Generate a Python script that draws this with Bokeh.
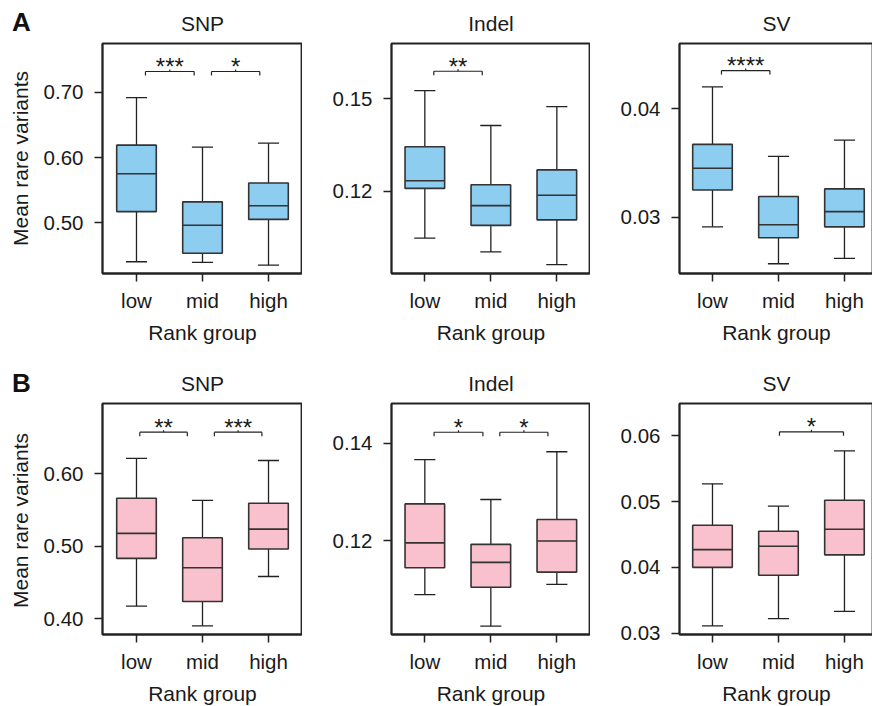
import numpy as np
from bokeh.plotting import figure
from bokeh.layouts import column, row
from bokeh.models import FixedTicker, NumeralTickFormatter, Range1d
from bokeh.core.properties import value
from bokeh.embed import file_html
from bokeh.resources import INLINE

# ---------------- data ----------------
GROUPS = ["low", "mid", "high"]
PANEL_TITLES = ["SNP", "Indel", "SV"]
ROW_LETTERS = ["A", "B"]
X_LABEL = "Rank group"
Y_LABEL = "Mean rare variants"

# Row A (blue)
A_SNP_LO = [0.440, 0.439, 0.435]
A_SNP_Q1 = [0.517, 0.453, 0.505]
A_SNP_MED = [0.575, 0.496, 0.526]
A_SNP_Q3 = [0.619, 0.532, 0.561]
A_SNP_HI = [0.692, 0.616, 0.622]
A_SNP_TICKS = [0.50, 0.60, 0.70]
A_SNP_SIG = [("low", "mid", "***", 0.732), ("mid", "high", "*", 0.732)]

A_INDEL_LO = [0.1049, 0.1004, 0.0963]
A_INDEL_Q1 = [0.1210, 0.1090, 0.1108]
A_INDEL_MED = [0.1235, 0.1154, 0.1188]
A_INDEL_Q3 = [0.1345, 0.1222, 0.1270]
A_INDEL_HI = [0.1527, 0.1414, 0.1475]
A_INDEL_TICKS = [0.12, 0.15]
A_INDEL_SIG = [("low", "mid", "**", 0.159)]

A_SV_LO = [0.0291, 0.0257, 0.0262]
A_SV_Q1 = [0.0325, 0.0281, 0.0291]
A_SV_MED = [0.0345, 0.0293, 0.0305]
A_SV_Q3 = [0.0367, 0.0319, 0.0326]
A_SV_HI = [0.0420, 0.0356, 0.0371]
A_SV_TICKS = [0.03, 0.04]
A_SV_SIG = [("low", "mid", "****", 0.0435)]

# Row B (pink)
B_SNP_LO = [0.417, 0.390, 0.458]
B_SNP_Q1 = [0.483, 0.4235, 0.496]
B_SNP_MED = [0.5175, 0.470, 0.5234]
B_SNP_Q3 = [0.566, 0.5115, 0.559]
B_SNP_HI = [0.621, 0.563, 0.618]
B_SNP_TICKS = [0.40, 0.50, 0.60]
B_SNP_SIG = [("low", "mid", "**", 0.657), ("mid", "high", "***", 0.657)]

B_INDEL_LO = [0.1090, 0.1025, 0.1111]
B_INDEL_Q1 = [0.1145, 0.1105, 0.1136]
B_INDEL_MED = [0.1196, 0.1156, 0.1200]
B_INDEL_Q3 = [0.1276, 0.1193, 0.1244]
B_INDEL_HI = [0.1367, 0.1285, 0.1383]
B_INDEL_TICKS = [0.12, 0.14]
B_INDEL_SIG = [("low", "mid", "*", 0.1423), ("mid", "high", "*", 0.1423)]

B_SV_LO = [0.0311, 0.0322, 0.0333]
B_SV_Q1 = [0.0400, 0.0388, 0.0419]
B_SV_MED = [0.0427, 0.0432, 0.0458]
B_SV_Q3 = [0.0464, 0.0455, 0.0502]
B_SV_HI = [0.0527, 0.0493, 0.0577]
B_SV_TICKS = [0.03, 0.04, 0.05, 0.06]
B_SV_SIG = [("mid", "high", "*", 0.0606)]

# ---------------- layout / style ----------------
FONT = "Liberation Sans"
TEXT_COLOR = "#1a1a1a"
LINE_COLOR = "#222222"
ROW_COLORS = ["#8DCDF0", "#F8C1CD"]
FS = "21px"
TICK_FS = "20.5px"

TOTAL_H = 706
SIDE_W = 40                      # strip holding row letters and y-axis titles
COL_BORDER_LEFT = [61, 89, 89]
COL_FRAME_W = [200, 199, 194]
COL_X_RANGE = [(-0.515, 2.515), (-0.505, 2.51), (-0.5, 2.44)]
ROW_BORDER_TOP = [43, 48]
ROW_FRAME_H = [230, 231]
ROW_BORDER_BOTTOM = [82, 72]
Y_RANGES = [
    [(0.422, 0.775), (0.0934, 0.168), (0.0248, 0.046)],
    [(0.378, 0.6966), (0.1008, 0.1482), (0.0298, 0.0649)],
]
# bracket x-spans (in category units), one per significance bracket
BRACKET_SPANS = [
    [[(0.136, 0.874), (1.136, 1.868)], [(0.136, 0.87)], [(0.136, 0.87)]],
    [[(0.05, 0.77), (1.18, 1.90)], [(0.14, 0.88), (1.136, 1.865)], [(1.015, 1.985)]],
]
# side strip positions in page pixels (x, y from top)
LETTER_POS = [(11.5, 21.5), (11.5, 382.5)]
YLABEL_POS = [(20, 158), (20, 520)]
BOX_W = 0.6
CAP_W = 0.32

PANELS = [
    [(A_SNP_LO, A_SNP_Q1, A_SNP_MED, A_SNP_Q3, A_SNP_HI, A_SNP_TICKS, A_SNP_SIG),
     (A_INDEL_LO, A_INDEL_Q1, A_INDEL_MED, A_INDEL_Q3, A_INDEL_HI, A_INDEL_TICKS, A_INDEL_SIG),
     (A_SV_LO, A_SV_Q1, A_SV_MED, A_SV_Q3, A_SV_HI, A_SV_TICKS, A_SV_SIG)],
    [(B_SNP_LO, B_SNP_Q1, B_SNP_MED, B_SNP_Q3, B_SNP_HI, B_SNP_TICKS, B_SNP_SIG),
     (B_INDEL_LO, B_INDEL_Q1, B_INDEL_MED, B_INDEL_Q3, B_INDEL_HI, B_INDEL_TICKS, B_INDEL_SIG),
     (B_SV_LO, B_SV_Q1, B_SV_MED, B_SV_Q3, B_SV_HI, B_SV_TICKS, B_SV_SIG)],
]


def make_panel(r, c):
    lo, q1, med, q3, hi, ticks, sigs = PANELS[r][c]
    y0, y1 = Y_RANGES[r][c]
    fh = ROW_FRAME_H[r]
    p = figure(
        frame_width=COL_FRAME_W[c], frame_height=fh,
        min_border_left=COL_BORDER_LEFT[c], min_border_right=0,
        min_border_top=ROW_BORDER_TOP[r], min_border_bottom=ROW_BORDER_BOTTOM[r],
        x_range=Range1d(*COL_X_RANGE[c]), y_range=Range1d(y0, y1),
        output_backend="svg", toolbar_location=None, title=PANEL_TITLES[c],
    )
    p.title.align = "center"
    p.title.text_font = FONT
    p.title.text_font_size = FS
    p.title.text_font_style = "normal"
    p.title.text_color = TEXT_COLOR
    p.title.standoff = 17
    p.grid.visible = False
    p.outline_line_color = LINE_COLOR
    p.outline_line_width = 1.8
    p.outline_line_alpha = 1.0
    p.background_fill_color = "white"
    p.border_fill_color = "white"

    for ax in (p.xaxis[0], p.yaxis[0]):
        ax.axis_line_color = LINE_COLOR
        ax.axis_line_width = 1.8
        ax.major_tick_line_color = LINE_COLOR
        ax.major_tick_line_width = 1.5
        ax.major_tick_out = 8
        ax.major_tick_in = 0
        ax.minor_tick_line_color = None
        ax.major_label_text_font = FONT
        ax.major_label_text_font_size = TICK_FS
        ax.major_label_text_color = TEXT_COLOR
        ax.axis_label_text_font = FONT
        ax.axis_label_text_font_size = FS
        ax.axis_label_text_font_style = "normal"
        ax.axis_label_text_color = TEXT_COLOR

    p.xaxis.ticker = FixedTicker(ticks=list(range(len(GROUPS))))
    p.xaxis.major_label_overrides = {i: g for i, g in enumerate(GROUPS)}
    p.xaxis.axis_label = X_LABEL
    p.xaxis.major_label_standoff = 7
    p.xaxis.axis_label_standoff = 6

    p.yaxis.ticker = FixedTicker(ticks=ticks)
    p.yaxis.formatter = NumeralTickFormatter(format="0.00")
    p.yaxis.major_label_standoff = 11

    x = np.arange(len(GROUPS), dtype=float)
    lo, q1, med, q3, hi = map(np.asarray, (lo, q1, med, q3, hi))
    # whiskers
    p.segment(x0=x, y0=q3, x1=x, y1=hi, line_color=LINE_COLOR, line_width=1.3)
    p.segment(x0=x, y0=q1, x1=x, y1=lo, line_color=LINE_COLOR, line_width=1.3)
    p.segment(x0=x - CAP_W / 2, y0=hi, x1=x + CAP_W / 2, y1=hi, line_color=LINE_COLOR, line_width=1.3)
    p.segment(x0=x - CAP_W / 2, y0=lo, x1=x + CAP_W / 2, y1=lo, line_color=LINE_COLOR, line_width=1.3)
    # boxes
    p.vbar(x=x, width=BOX_W, bottom=q1, top=q3, fill_color=ROW_COLORS[r],
           line_color="#333333", line_width=1.6)
    p.segment(x0=x - BOX_W / 2, y0=med, x1=x + BOX_W / 2, y1=med,
              line_color="#333333", line_width=1.6)

    # significance brackets
    ppu = fh / (y1 - y0)
    tip = 4.0 / ppu
    notch = 2.0 / ppu
    for (g1, g2, stars, yb), (a, b) in zip(sigs, BRACKET_SPANS[r][c]):
        m = (a + b) / 2
        p.segment(x0=[a, a, b, m], y0=[yb, yb, yb, yb], x1=[b, a, b, m],
                  y1=[yb, yb - tip, yb - tip, yb + notch],
                  line_color=LINE_COLOR, line_width=1.2)
        p.text(x=[m], y=[yb + 5.0 / ppu], text=[stars], text_align="center",
               text_baseline="alphabetic", text_font=value(FONT), text_font_size="24px",
               text_color=TEXT_COLOR)
    return p


# side strip with row letters and the y-axis titles
side = figure(width=SIDE_W, height=TOTAL_H, x_range=Range1d(0, SIDE_W), y_range=Range1d(0, TOTAL_H),
              min_border=0, x_axis_type=None, y_axis_type=None, output_backend="svg",
              toolbar_location=None)
side.outline_line_color = None
side.grid.visible = False
side.background_fill_color = "white"
side.border_fill_color = "white"
side.text(x=[pos[0] for pos in LETTER_POS], y=[TOTAL_H - pos[1] for pos in LETTER_POS],
          text=ROW_LETTERS, text_align="left", text_baseline="alphabetic",
          text_font=value(FONT), text_font_style="bold", text_font_size="26px",
          text_color="#111111")
side.text(x=[pos[0] for pos in YLABEL_POS], y=[TOTAL_H - pos[1] for pos in YLABEL_POS],
          text=[Y_LABEL, Y_LABEL], angle=np.pi / 2, text_align="center", text_baseline="middle",
          text_font=value(FONT), text_font_size=FS, text_color=TEXT_COLOR)

rows = []
for r in range(2):
    rows.append(row([make_panel(r, c) for c in range(3)], spacing=0))
layout = row([side, column(rows, spacing=0)], spacing=0)

open("out.html", "w").write(file_html(layout, INLINE))
